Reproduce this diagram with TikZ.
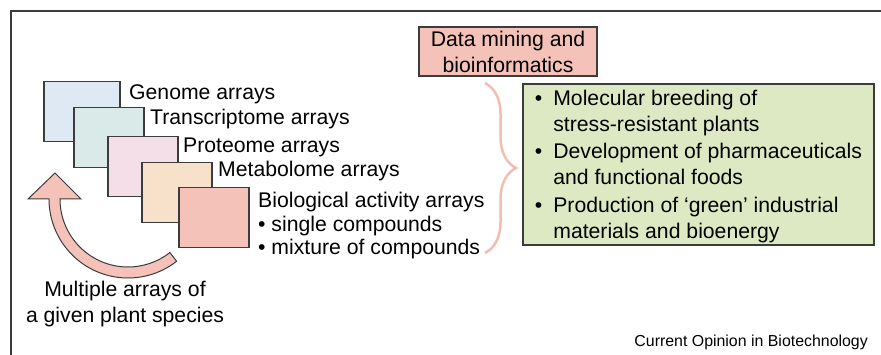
\documentclass[tikz,border=0pt]{standalone}
\usepackage{fontspec}
\setmainfont{Liberation Sans}
\usepackage{tikz}
\usetikzlibrary{decorations.pathreplacing}
\definecolor{salmon}{HTML}{F4C2B8}
\definecolor{paleblue}{HTML}{DEE9F4}
\definecolor{paleteal}{HTML}{DAEAE8}
\definecolor{palepink}{HTML}{F4DFE8}
\definecolor{palepeach}{HTML}{F8E1CA}
\definecolor{palegreen}{HTML}{DDE9C3}
\definecolor{edge}{HTML}{3C3C3C}
\definecolor{bracecol}{HTML}{F4BDB2}

\begin{document}
\begin{tikzpicture}[x=1pt, y=-1pt, inner sep=0pt,
  every node/.style={font=\fontsize{21.2}{26}\selectfont},
  arr/.style={draw=edge, line width=1.5pt, minimum width=70pt, minimum height=60pt, anchor=north west},
  lbl/.style={anchor=base west},
  brc/.style={decorate, decoration={brace, amplitude=31pt}, draw=bracecol, line width=2.5pt}]

\useasboundingbox (0,0) rectangle (881,355);
\draw [line width=2pt, edge] (11,355) -- (11,11) -- (881,11);

% stacked arrays
\node [arr, fill=paleblue, minimum width=76pt] (genome) at (43,81) {};
\node [arr, fill=paleteal] (transcriptome) at (73,107) {};
\node [arr, fill=palepink] (proteome) at (107,136) {};
\node [arr, fill=palepeach] (metabolome) at (141,162) {};
\node [arr, fill=salmon] (activity) at (178,187) {};

\node [lbl] (genometxt) at (129,100) {Genome arrays};
\node [lbl] (transcriptometxt) at (150,125) {Transcriptome arrays};
\node [lbl] (proteometxt) at (183,153) {Proteome arrays};
\node [lbl] (metabolometxt) at (218,177) {Metabolome arrays};
\node [lbl] (activitytxt) at (258,208) {Biological activity arrays};
\node [lbl] (singletxt) at (258,232) {\textbullet{} single compounds};
\node [lbl] (mixturetxt) at (258,255) {\textbullet{} mixture of compounds};

% curved arrow
\filldraw [fill=salmon, draw=edge, line width=1pt] (55,173) -- (81,199) -- (60,199)
  arc [start angle=180, end angle=52, radius=68] -- ++(52:11)
  arc [start angle=52, end angle=180, radius=79] -- (28,199) -- cycle;

\node [anchor=base] (multi1) at (125,297) {Multiple arrays of};
\node [anchor=base] (multi2) at (125,323) {a given plant species};

% data mining and outcomes
\node [draw=edge, line width=1.5pt, fill=salmon, minimum width=178pt, minimum height=49pt, align=center]
  (mining) at (508,51.5) {Data mining and\\bioinformatics};

\coordinate (bt) at (485,83);
\coordinate (bb) at (485,253);
\draw [brc] (bt) -- (bb);

\node [draw=edge, line width=1.5pt, fill=palegreen, minimum width=351pt, minimum height=161pt]
  (uses) at (698.5,164.5) {\raisebox{-2pt}[\height][\depth]{\begin{tabular}{@{}l@{\hspace{11pt}}l@{}}
  \textbullet & Molecular breeding of\\
  & stress-resistant plants\\[1.5pt]
  \textbullet & Development of pharmaceuticals\\
  & and functional foods\\[1.5pt]
  \textbullet & Production of ‘green’ industrial\\
  & materials and bioenergy
  \end{tabular}}};

\node [anchor=base east, font=\fontsize{15.9}{19}\selectfont] (source) at (868,346) {Current Opinion in Biotechnology};

\end{tikzpicture}
\end{document}
